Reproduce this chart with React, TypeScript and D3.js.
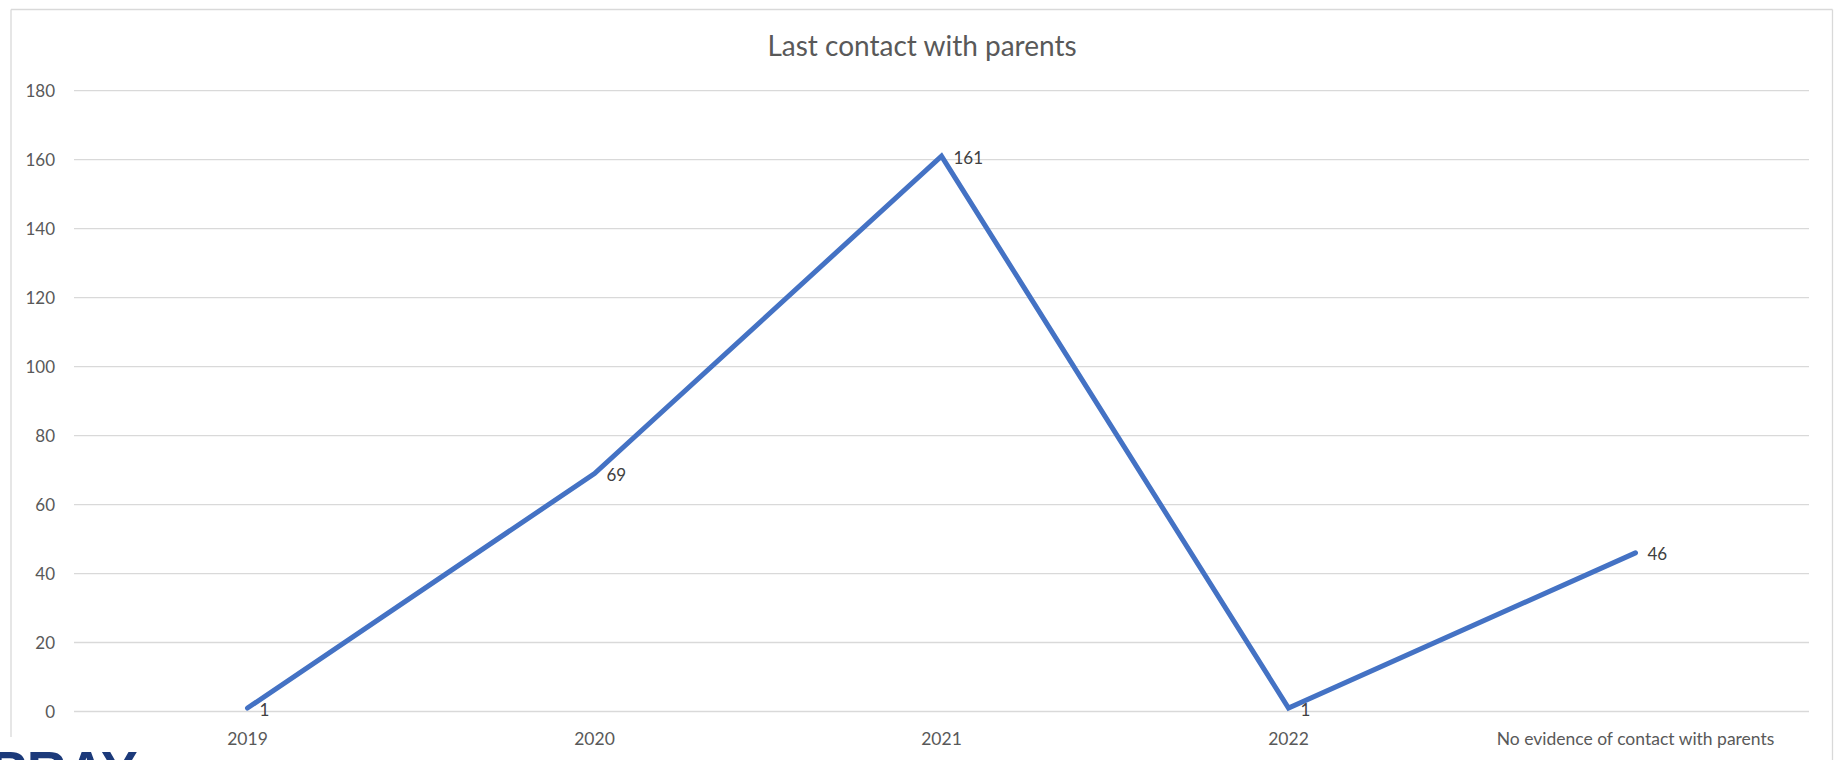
import React from "react";
import * as d3 from "d3";

const categories = ["2019", "2020", "2021", "2022", "No evidence of contact with parents"];
const values = [1, 69, 161, 1, 46];
const yTicks = [0, 20, 40, 60, 80, 100, 120, 140, 160, 180];
const title = "Last contact with parents";

const W = 1837;
const H = 760;

export default function App() {
  const x = d3.scaleBand<string>().domain(categories).range([74, 1809]);
  const y = d3.scaleLinear().domain([0, 180]).range([711.5, 90.7]);
  const cx = (c: string) => (x(c) as number) + x.bandwidth() / 2;
  const pts = categories.map((c, i) => [cx(c), y(values[i])] as [number, number]);
  const line = d3.line();
  const font = "Lato, 'Open Sans', sans-serif";
  return (
    <svg
      width={W}
      height={H}
      style={{ position: "absolute", left: 0, top: 0, background: "#fff" }}
      fontFamily={font}
    >
      <rect x={0} y={0} width={W} height={H} fill="#fff" />
      <line x1={11} x2={1832.5} y1={9.5} y2={9.5} stroke="#d9d9d9" strokeWidth={1.3} />
      <line x1={11} x2={11} y1={9.5} y2={737} stroke="#d9d9d9" strokeWidth={1.3} />
      <line x1={1832.5} x2={1832.5} y1={9.5} y2={760} stroke="#d9d9d9" strokeWidth={1.3} />
      <text x={922} y={45} textAnchor="middle" dominantBaseline="central" fontSize={28} fill="#595959">
        {title}
      </text>
      {yTicks.map((t) => (
        <g key={t}>
          <line x1={74} x2={1809} y1={y(t)} y2={y(t)} stroke="#d9d9d9" strokeWidth={1.3} />
          <text x={55} y={y(t)} textAnchor="end" dominantBaseline="central" fontSize={17} fill="#595959">
            {t}
          </text>
        </g>
      ))}
      {categories.map((c) => (
        <text key={c} x={cx(c)} y={738} textAnchor="middle" dominantBaseline="central" fontSize={17.5} fill="#595959">
          {c}
        </text>
      ))}
      <path
        d={line(pts) as string}
        fill="none"
        stroke="#4472C4"
        strokeWidth={5}
        strokeLinejoin="miter"
        strokeLinecap="round"
      />
      {pts.map((p, i) => (
        <text key={i} x={p[0] + 12} y={p[1] + 1} dominantBaseline="central" fontSize={17} fill="#404040">
          {values[i]}
        </text>
      ))}
      <text x={-10} y={790} fontSize={55} fontWeight={900} fill="#1c3a7a" fontFamily="'Liberation Sans', Arial, sans-serif">
        PRAY
      </text>
    </svg>
  );
}
